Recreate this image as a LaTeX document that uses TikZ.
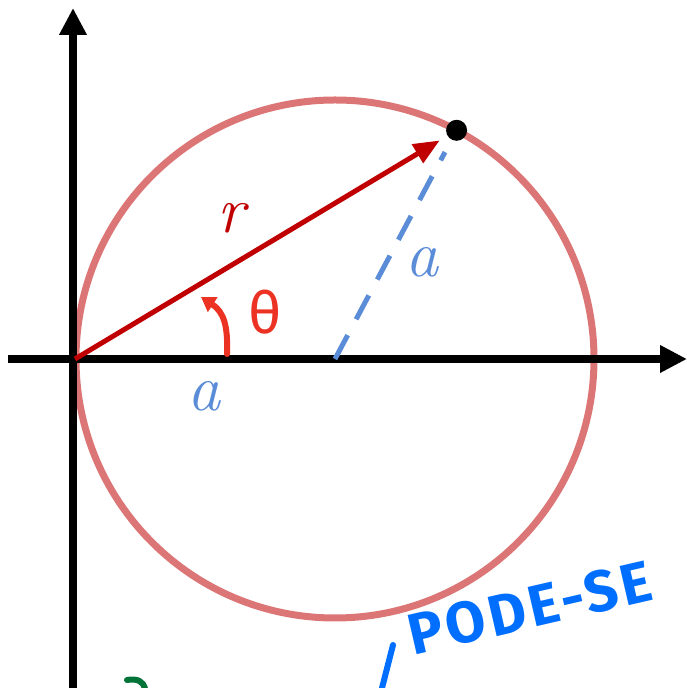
\documentclass[tikz,border=0pt]{standalone}
\usepackage{fontspec}
\newfontfamily\handfont{Fira Sans}
\usepackage{tikz}
\usetikzlibrary{arrows.meta, calc}

\definecolor{circlered}{RGB}{220,118,118}
\definecolor{radiusred}{RGB}{192,0,0}
\definecolor{anglered}{RGB}{235,50,35}
\definecolor{sideblue}{RGB}{90,140,215}
\definecolor{inkblue}{RGB}{0,110,255}
\definecolor{inkgreen}{RGB}{0,115,55}

\begin{document}
\begin{tikzpicture}[
  x=1pt, y=1pt,
  axis/.style={line width=8pt, -{Triangle[length=27pt,width=26pt]}},
  lbl/.style={inner sep=0pt, font=\fontsize{66}{66}\selectfont\itshape},
  ink/.style={line width=6pt, line cap=round, line join=round}
]
  \useasboundingbox (0,0) rectangle (687,688);

  \coordinate (ybot) at (73,0);
  \coordinate (ytop) at (73,680);
  \coordinate (xleft) at (8,329);
  \coordinate (xright) at (687,329);
  \coordinate (O) at (75,329);
  \coordinate (C) at (335,329);

  % circle and axes
  \draw[circlered, line width=7pt] (C) circle[radius=259];
  \draw[axis] (ybot) -- (ytop);
  \draw[axis] (xleft) -- (xright);

  % point on the circle
  \node[circle, fill=black, inner sep=0pt, minimum size=21pt] (P) at ($(C)+(62:259)$) {};

  \draw[radiusred, line width=5pt, -{Triangle[length=26pt,width=21pt]}, shorten >=9pt] (O) -- (P);
  \draw[sideblue, line width=5pt, dash pattern=on 27pt off 18pt, shorten >=14pt] (C) -- (P);

  % labels
  \node[lbl, text=radiusred] (rlabel) at (231,470) {r};
  \node[lbl, text=sideblue] (atop) at (422,426) {a};
  \node[lbl, text=sideblue] (abot) at (204,292) {a};

  % angle
  \coordinate (arcstart) at (227,334);
  \coordinate (arcend) at (201,391);
  \draw[ink, anglered, -{Triangle[length=14pt,width=17pt]}] (arcstart) .. controls (228,362) and (224,376) .. (arcend);
  \node[inner sep=0pt, text=anglered, font=\handfont\fontsize{58}{58}\selectfont] (theta) at (265,376) {θ};

  % handwriting
  \node[inner sep=0pt, text=inkblue, rotate=13, font=\handfont\bfseries\fontsize{58}{58}\selectfont\addfontfeatures{LetterSpace=6}] (pode) at (530,80) {PODE-SE};
  \coordinate (slashtop) at (393,43);
  \coordinate (slashbot) at (382,0);
  \draw[ink, inkblue] (slashtop) -- (slashbot);
  \coordinate (gstart) at (127,8);
  \coordinate (gend) at (145,0);
  \draw[ink, inkgreen] (gstart) .. controls (138,10) and (143,6) .. (gend);
\end{tikzpicture}
\end{document}
